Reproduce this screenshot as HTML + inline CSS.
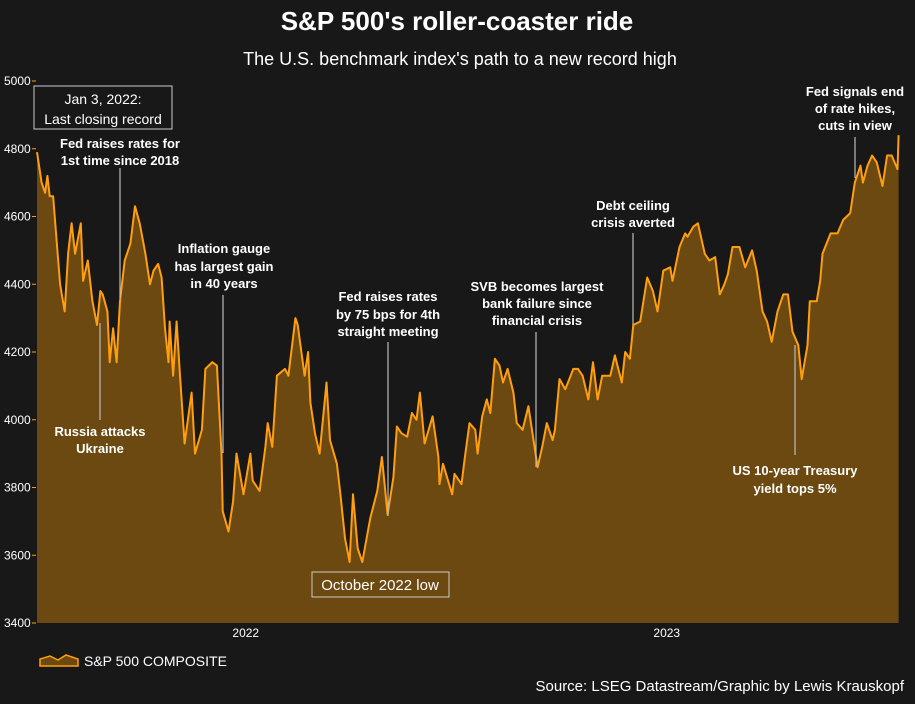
<!DOCTYPE html>
<html><head><meta charset="utf-8"><style>
body{margin:0;background:#181818;}
svg text{font-family:"Liberation Sans",sans-serif;fill:#fff;}
.ann{font-weight:bold;font-size:13px;text-anchor:middle;}
</style></head><body>
<svg id="chart" width="915" height="699" xmlns="http://www.w3.org/2000/svg">
<rect width="915" height="699" fill="#181818"/>
<text x="457" y="30" text-anchor="middle" font-size="26" font-weight="bold">S&amp;P 500's roller-coaster ride</text>
<text x="460" y="65" text-anchor="middle" font-size="18">The U.S. benchmark index's path to a new record high</text>
<g id="yaxis"></g>
<g id="xaxis"></g>
<path id="area" fill="#6c4911"/>
<path id="line" fill="none" stroke="#ff9f0f" stroke-width="2" stroke-linejoin="round"/>
<g stroke="#bbb" stroke-width="1.2">
<line x1="120" y1="168" x2="120" y2="298"/>
<line x1="100" y1="323" x2="100" y2="420"/>
<line x1="223" y1="295" x2="223" y2="453"/>
<line x1="388" y1="342" x2="388" y2="516"/>
<line x1="536" y1="332" x2="536" y2="467"/>
<line x1="633" y1="233" x2="633" y2="325"/>
<line x1="795" y1="345" x2="795" y2="455"/>
<line x1="855" y1="137" x2="855" y2="178"/>
</g>
<rect x="34" y="86" width="138" height="43" fill="#181818" stroke="#ccc"/>
<text x="103" y="104" text-anchor="middle" font-size="14">Jan 3, 2022:</text>
<text x="103" y="124" text-anchor="middle" font-size="14">Last closing record</text>
<rect x="312" y="572" width="137" height="25" fill="#6c4911" stroke="#ccc"/>
<text x="380" y="590" text-anchor="middle" font-size="15">October 2022 low</text>
<g>
<text class="ann" x="120" y="148">Fed raises rates for</text><text class="ann" x="120" y="165">1st time since 2018</text>
<text class="ann" x="100" y="436">Russia attacks</text><text class="ann" x="100" y="453">Ukraine</text>
<text class="ann" x="224" y="253">Inflation gauge</text><text class="ann" x="224" y="271">has largest gain</text><text class="ann" x="224" y="288">in 40 years</text>
<text class="ann" x="388" y="301">Fed raises rates</text><text class="ann" x="388" y="319">by 75 bps for 4th</text><text class="ann" x="388" y="336">straight meeting</text>
<text class="ann" x="537" y="291">SVB becomes largest</text><text class="ann" x="537" y="308">bank failure since</text><text class="ann" x="537" y="325">financial crisis</text>
<text class="ann" x="633" y="210">Debt ceiling</text><text class="ann" x="633" y="227">crisis averted</text>
<text class="ann" x="795" y="475">US 10-year Treasury</text><text class="ann" x="795" y="493">yield tops 5%</text>
<text class="ann" x="855" y="96">Fed signals end</text><text class="ann" x="855" y="113">of rate hikes,</text><text class="ann" x="855" y="130">cuts in view</text>
</g>
<g>
<path d="M40,666 L40,659 L50,656 L58,660 L66,655 L78,659 L78,666 Z" fill="#6c4911" stroke="#ff9f0f" stroke-width="1.5"/>
<text x="84" y="666" font-size="14">S&amp;P 500 COMPOSITE</text>
</g>
<text x="904" y="691" text-anchor="end" font-size="15">Source: LSEG Datastream/Graphic by Lewis Krauskopf</text>
</svg>
<script>
const days=[0,4,7,9,11,14,20,24,27,30,33,38,40,44,48,52,55,57,61,63,66,69,72,76,81,85,89,94,98,101,105,108,111,114,115,118,121,124,128,134,137,143,146,152,156,160,161,166,170,173,179,185,187,193,198,200,204,208,215,218,224,226,232,235,237,241,245,251,254,260,263,267,271,274,278,282,289,295,299,304,309,312,316,321,325,329,332,336,343,348,349,352,360,362,368,371,375,380,382,386,390,393,397,401,404,408,413,416,421,426,430,434,438,442,447,449,453,458,465,469,473,478,482,486,490,497,501,507,510,514,517,523,529,534,538,543,549,551,557,562,564,569,573,579,583,588,592,596,599,603,609,614,620,624,629,633,637,642,647,651,655,660,663,668,670,676,679,681,688,694,699,705,709,714,716,720,724,728,733,737,741,746,747];
const values=[4790,4700,4670,4720,4660,4660,4400,4320,4490,4580,4490,4580,4410,4470,4350,4280,4380,4370,4320,4170,4270,4170,4350,4470,4520,4630,4580,4490,4400,4440,4460,4420,4270,4170,4290,4130,4290,4130,3930,4080,3900,3970,4150,4170,4160,3900,3730,3670,3760,3900,3780,3900,3820,3790,3920,3990,3920,4130,4150,4130,4300,4280,4130,4200,4050,3960,3900,4110,3940,3870,3780,3650,3580,3780,3620,3580,3710,3790,3890,3720,3830,3980,3960,3950,4020,4000,4080,3930,4010,3890,3810,3870,3780,3840,3810,3890,3990,3970,3900,4010,4060,4020,4180,4160,4110,4150,4080,3990,3970,4040,3950,3860,3920,3990,3940,3970,4120,4090,4150,4150,4130,4060,4170,4060,4130,4130,4190,4110,4200,4180,4280,4290,4420,4380,4320,4440,4450,4410,4510,4550,4540,4570,4580,4490,4470,4480,4370,4400,4430,4510,4510,4450,4500,4440,4320,4290,4230,4320,4370,4370,4260,4220,4120,4220,4350,4350,4410,4490,4550,4550,4590,4610,4700,4750,4700,4750,4780,4760,4690,4780,4780,4740,4840];
const yTicks=[3400,3600,3800,4000,4200,4400,4600,4800,5000];
const xLabels=["2022","2023"];
const xLabelDays=[181,546];
const X0=37,PXD=421/365,Y0=623,YT=81,VMIN=3400,VMAX=5000;
const xs=d=>X0+d*PXD;
const ys=v=>Y0-(v-VMIN)/(VMAX-VMIN)*(Y0-YT);
const NS="http://www.w3.org/2000/svg";
let d="";
days.forEach((dd,i)=>{d+=(i?"L":"M")+xs(dd).toFixed(1)+","+ys(values[i]).toFixed(1);});
document.getElementById('line').setAttribute('d',d);
document.getElementById('area').setAttribute('d',"M"+xs(0)+","+Y0+"L"+d.slice(1)+"L"+xs(days[days.length-1]).toFixed(1)+","+Y0+"Z");
const ya=document.getElementById('yaxis');
yTicks.forEach(v=>{
 const t=document.createElementNS(NS,'text');
 
 
 t.setAttribute('x',4);t.setAttribute('y',ys(v)+4);t.setAttribute('font-size','12');
 t.textContent=v;ya.appendChild(t);
 const l=document.createElementNS(NS,'line');
 
 
 l.setAttribute('x1',32);l.setAttribute('x2',36);l.setAttribute('y1',ys(v));l.setAttribute('y2',ys(v));l.setAttribute('stroke','#ff9f0f');
 ya.appendChild(l);
});
const xa=document.getElementById('xaxis');
xLabels.forEach((lab,i)=>{
 const t=document.createElementNS(NS,'text');
 
 
 t.setAttribute('x',xs(xLabelDays[i]));t.setAttribute('y',637);t.setAttribute('font-size','12');t.setAttribute('text-anchor','middle');
 t.textContent=lab;xa.appendChild(t);
});
</script>
</body></html>
